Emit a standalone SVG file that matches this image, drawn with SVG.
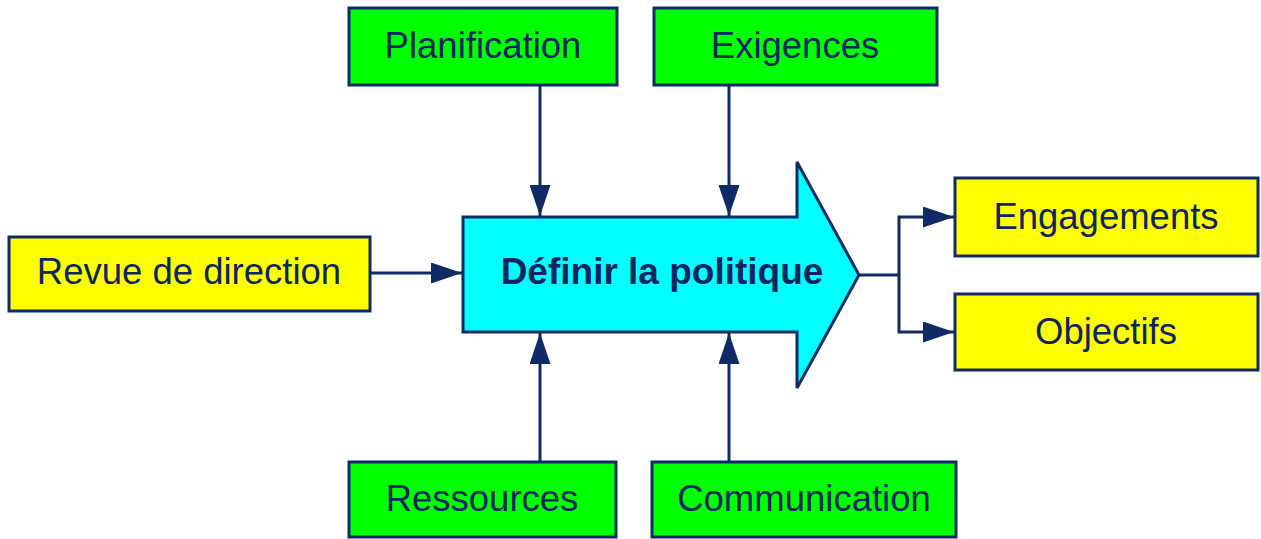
<svg xmlns="http://www.w3.org/2000/svg" width="1261" height="539" viewBox="0 0 1261 539">
<style>
.box{stroke:#102a66;stroke-width:3}
.g{fill:#00ff00}
.y{fill:#ffff00}
.t{font-family:"Liberation Sans",Arial,sans-serif;font-size:36.5px;fill:#0d2660;text-anchor:middle}
.c{fill:none;stroke:#102a66;stroke-width:3}
</style>
<defs>
<marker id="ah" markerWidth="31" markerHeight="21" refX="31" refY="10.5" orient="auto" markerUnits="userSpaceOnUse" viewBox="0 0 31 21">
<path d="M0,0 L31,10.5 L0,21 Z" fill="#102a66"/>
</marker>
</defs>
<g id="connectors">
<path class="c" d="M540,85 V216" marker-end="url(#ah)"/>
<path class="c" d="M729,85 V216" marker-end="url(#ah)"/>
<path class="c" d="M540,462 V333" marker-end="url(#ah)"/>
<path class="c" d="M729,462 V333" marker-end="url(#ah)"/>
<path class="c" d="M370,273 H462" marker-end="url(#ah)"/>
<path class="c" d="M859,275 H899"/>
<path class="c" d="M899,275 V217 H954" marker-end="url(#ah)"/>
<path class="c" d="M899,275 V332 H954" marker-end="url(#ah)"/>
</g>
<g id="planification"><rect class="box g" x="349" y="8" width="268" height="77"/><text class="t" x="483" y="58">Planification</text></g>
<g id="exigences"><rect class="box g" x="654" y="8" width="283" height="77"/><text class="t" x="795" y="58">Exigences</text></g>
<g id="revue"><rect class="box y" x="9" y="237" width="361" height="74"/><text class="t" x="189" y="284">Revue de direction</text></g>
<g id="definir"><path d="M463,217 H797 V162 L859,275 L797,388 V332 H463 Z" fill="#00ffff" stroke="#102a66" stroke-width="3"/><text class="t" x="662" y="284" style="font-weight:bold;font-size:37px">Définir la politique</text></g>
<g id="engagements"><rect class="box y" x="955" y="178" width="303" height="78"/><text class="t" x="1106" y="229">Engagements</text></g>
<g id="objectifs"><rect class="box y" x="955" y="294" width="303" height="76"/><text class="t" x="1106" y="344">Objectifs</text></g>
<g id="ressources"><rect class="box g" x="349" y="462" width="267" height="75"/><text class="t" x="482" y="511">Ressources</text></g>
<g id="communication"><rect class="box g" x="652" y="462" width="304" height="75"/><text class="t" x="804" y="511">Communication</text></g>
</svg>
